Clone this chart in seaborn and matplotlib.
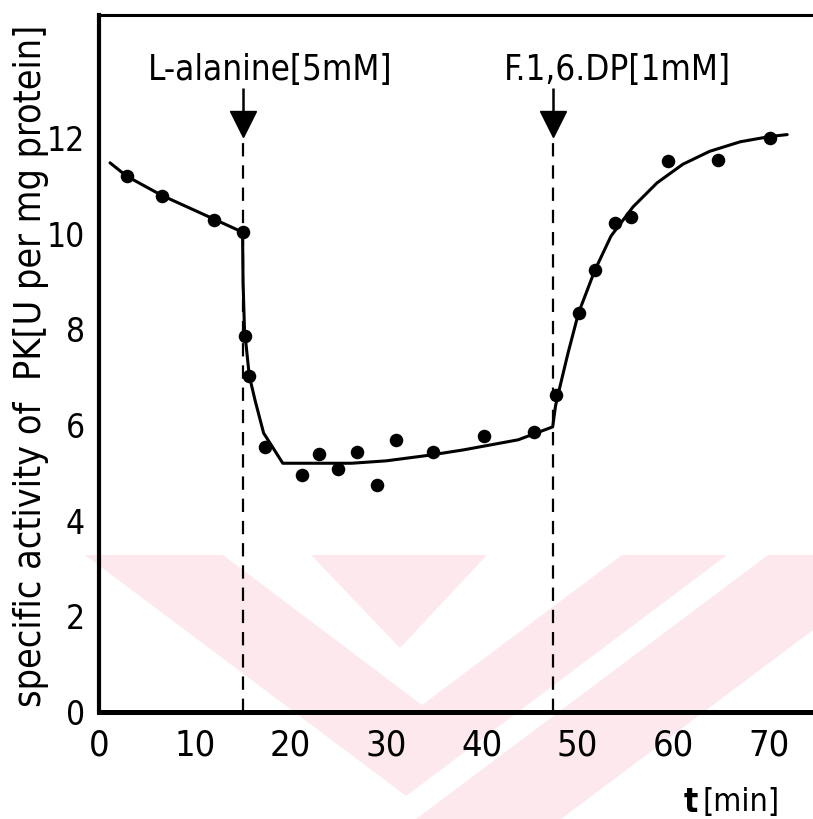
import numpy as np
import pandas as pd
import seaborn as sns
import matplotlib
matplotlib.use("Agg")
import matplotlib.pyplot as plt
from matplotlib.patches import Polygon

# ---- data ----
point_t = [2.9, 6.55, 12.05, 15.0, 15.3, 15.7, 17.3, 21.2, 23.0, 25.0, 27.0, 29.0,
           31.0, 34.9, 40.2, 45.4, 47.8, 50.1, 51.8, 53.9, 55.6, 59.5, 64.7, 70.1]
point_y = [11.21, 10.78, 10.29, 10.03, 7.85, 7.03, 5.53, 4.96, 5.39, 5.08, 5.43, 4.74,
           5.69, 5.43, 5.76, 5.86, 6.63, 8.34, 9.23, 10.22, 10.35, 11.51, 11.53, 12.0]

curve_t = [1.15, 2.9, 6.55, 12.05, 15.0, 15.05, 15.2, 15.7, 16.3, 17.2, 18.0, 19.2,
           22.0, 26.4, 30.0, 34.6, 38.1, 43.8, 47.4, 47.7, 48.1, 49.0, 50.1, 51.8,
           53.5, 55.8, 58.3, 61.0, 63.8, 67.0, 70.1, 71.9]
curve_y = [11.48, 11.2, 10.8, 10.3, 10.03, 9.0, 8.0, 7.03, 6.52, 5.83, 5.58, 5.2,
           5.2, 5.2, 5.25, 5.37, 5.48, 5.69, 5.96, 6.4, 6.75, 7.5, 8.34, 9.23,
           9.95, 10.56, 11.06, 11.45, 11.72, 11.92, 12.03, 12.07]

event_t = [15.0, 47.4]
event_labels = ["L-alanine[5mM]", "F.1,6.DP[1mM]"]

x_ticks = [0, 10, 20, 30, 40, 50, 60, 70]
y_ticks = [0, 2, 4, 6, 8, 10, 12]

pts = pd.DataFrame({"t": point_t, "activity": point_y})
fit = pd.DataFrame({"t": curve_t, "activity": curve_y})

sns.set_theme(style="white")
plt.rcParams["font.family"] = ["DejaVu Sans"]
plt.rcParams["font.stretch"] = "condensed"

W, H = 813, 819
fig = plt.figure(figsize=(8.13, 8.19), dpi=100)

# faint pink watermark of the scanned page (decoration, figure pixel coords)
PINK = "#fde9ed"
def px(poly):
    return [(x / W, 1 - y / H) for x, y in poly]
wm_polys = [
    # big chevron band
    [(85, 555), (223, 555), (422, 705), (622, 555), (727, 555), (406, 796)],
    # inner triangle
    [(311, 555), (487, 555), (400, 648)],
    # outer chevron right arm
    [(768, 555), (813, 555), (813, 630), (561, 819), (416, 819)],
]
for poly in wm_polys:
    fig.patches.append(Polygon(px(poly), closed=True, facecolor=PINK,
                               edgecolor="none", transform=fig.transFigure,
                               zorder=-10))

ax = fig.add_axes([99 / W, 1 - 712 / H, 1 - 99 / W, (712 - 15) / H])
ax.patch.set_alpha(0)

sns.lineplot(data=fit, x="t", y="activity", ax=ax, sort=False, estimator=None,
             color="black", linewidth=2.2)
sns.scatterplot(data=pts, x="t", y="activity", ax=ax, color="black", s=95,
                edgecolor="black", linewidth=0, zorder=5)

# dashed event lines + arrows
ax.vlines(event_t, 0, 12.02, colors="black", linewidth=1.6, linestyles=(0, (6, 4)))
ax.vlines(event_t, 12.3, 13.05, colors="black", linewidth=1.8)
ax.plot(event_t, [12.30] * len(event_t), linestyle="none", marker="v",
        markersize=19, color="black")

label_left = [5.1, 42.3]
for lx, lab in zip(label_left, event_labels):
    ax.text(lx, 13.42, lab, ha="left", va="center", fontsize=25, color="black",
            fontstretch="condensed")

ax.set_xlim(0, 74.6)
ax.set_ylim(0, 14.57)
ax.set_xticks(x_ticks)
ax.set_yticks(y_ticks)
ax.set_xticklabels([str(v) for v in x_ticks], fontsize=26, fontstretch="condensed")
ax.set_yticklabels([str(v) for v in y_ticks], fontsize=24, fontstretch="condensed")
ax.tick_params(axis="both", direction="in", length=5, width=1.8, color="black",
               labelcolor="black")
ax.tick_params(axis="x", pad=12)
ax.tick_params(axis="y", pad=10)
ax.set_xlabel("")
ax.set_ylabel("")

for side in ["left", "bottom", "top"]:
    ax.spines[side].set_visible(True)
    ax.spines[side].set_color("black")
ax.spines["left"].set_linewidth(3.0)
ax.spines["bottom"].set_linewidth(3.6)
ax.spines["top"].set_linewidth(2.2)
ax.spines["right"].set_visible(False)

fig.text(31 / W, 1 - 366 / H, "specific activity of  PK[U per mg protein]",
         rotation=90, ha="center", va="center", fontsize=27, color="black",
         fontstretch="condensed")
fig.text(698 / W, 1 - 802 / H, "t", ha="right", va="center", fontsize=24,
         fontweight="bold", color="black", fontstretch="condensed")
fig.text(702 / W, 1 - 802 / H, "[min]", ha="left", va="center", fontsize=23,
         color="black", fontstretch="condensed")

fig.savefig("out.png", dpi=100)
